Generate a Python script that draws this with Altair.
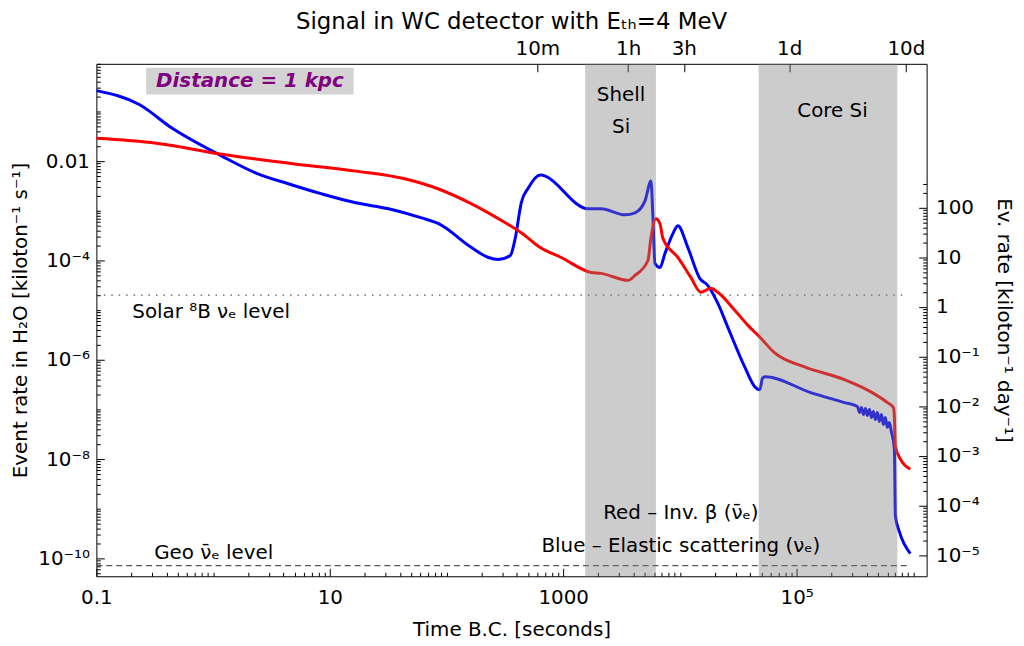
import altair as alt
import pandas as pd

# ---------------- data ----------------
blue_t = [0.1, 0.233, 0.447, 1.19, 2.33, 4.47, 8.55, 16.7, 31.9, 61.1,
          85.5, 164, 229, 278, 352, 389, 437, 502, 636, 1637,
          2113, 3388, 4121, 5021, 5649, 5875, 6110, 6745, 7443, 8710,
          9610, 11700, 14800, 17300, 21100, 25700, 35900, 43800, 48300, 51200,
          54300, 132000, 257000,
          332000, 346000, 359000, 374000, 389000, 404000, 421000, 438000, 455000,
          473000, 492000, 512000, 533000, 554000, 576000, 599000, 623000, 648000,
          688000, 702000, 759000, 942000]
blue_r = [0.263, 0.138, 0.0457, 0.0126, 0.00575, 0.00347, 0.00219, 0.00145, 0.0011, 7.2e-4,
          5.5e-4, 1.82e-4, 1.15e-4, 1.05e-4, 1.26e-4, 2.88e-4, 1.45e-3, 2.88e-3, 5.25e-3, 1.1e-3,
          1.1e-3, 8.3e-4, 9.1e-4, 1.58e-3, 3.98e-3, 7.2e-4, 8.7e-5, 7.2e-5, 1.38e-4, 3.47e-4,
          5.0e-4, 1.82e-4, 4.37e-5, 3.16e-5, 1.38e-5, 4.57e-6, 7.2e-7, 2.88e-7, 2.5e-7, 4.37e-7,
          4.57e-7, 2.19e-7, 1.38e-7,
          1.15e-7, 8.7e-8, 1.10e-7, 7.9e-8, 1.05e-7, 7.6e-8, 1.0e-7, 6.9e-8, 9.1e-8,
          6.3e-8, 8.7e-8, 5.75e-8, 7.9e-8, 5.0e-8, 6.9e-8, 4.37e-8, 5.5e-8, 3.63e-8,
          1.58e-8, 7.2e-10, 3.47e-10, 1.26e-10]
red_t = [0.1, 0.326, 1.19, 4.47, 16.7, 44.7, 85.5, 164, 319, 437,
         636, 961, 1734, 2113, 3597, 4121, 5321, 5649, 6232, 6745,
         7161, 9610, 12400, 15100, 18400, 21100, 29500, 38100, 48300, 64900,
         117000, 257000, 429000, 600000, 675000, 688000, 702000, 775000, 942000]
red_r = [0.0288, 0.0229, 0.0138, 0.0091, 0.0063, 0.00437, 0.00275, 0.00138, 5.75e-4, 3.63e-4,
         1.82e-4, 1.15e-4, 5.75e-5, 5.5e-5, 3.98e-5, 5.0e-5, 1.0e-4, 2.88e-4, 6.9e-4, 5.5e-4,
         2.75e-4, 1.15e-4, 4.57e-5, 2.29e-5, 2.75e-5, 2.29e-5, 1.0e-5, 5.0e-6, 2.88e-6, 1.38e-6,
         7.2e-7, 4.0e-7, 2.29e-7, 1.38e-7, 1.1e-7, 7.2e-8, 1.82e-8, 1.0e-8, 6.3e-9]

band_names = ["Shell Si", "Core Si"]
band_start = [1541, 47300]
band_end = [6232, 730000]

level_names = ["solar", "geo"]
level_values = [2.0e-5, 7.2e-11]
level_t_start = [0.1, 0.1]
level_t_end = [8.1e5, 9.25e5]

x_major = [0.1, 10, 1000, 1e5]
x_major_labels = ["0.1", "10", "1000", "10⁵"]
y_major = [1e-10, 1e-8, 1e-6, 1e-4, 1e-2]
y_major_labels = ["10⁻¹⁰", "10⁻⁸", "10⁻⁶", "10⁻⁴", "0.01"]
r_major_day = [1e-5, 1e-4, 1e-3, 1e-2, 1e-1, 1, 10, 100]
r_major_labels = ["10⁻⁵", "10⁻⁴", "10⁻³", "10⁻²", "10⁻¹", "1", "10", "100"]
top_ticks = [600, 3600, 10800, 86400, 864000]
top_labels = ["10m", "1h", "3h", "1d", "10d"]
SEC_PER_DAY = 86400

X_DOMAIN = [0.1, 1.3e6]
Y_DOMAIN = [4.4e-11, 0.91]

FONT = "DejaVu Sans"
FS = 20

# ---------------- helpers for axes ----------------
def minor_ticks(lo, hi, scale=1.0):
    out = []
    for k in range(-16, 9):
        for m in range(1, 10):
            v = m * 10.0 ** k * scale
            if lo <= v <= hi:
                out.append(v)
    return out


def is_one_of(vals):
    return " || ".join(f"abs(datum.value/{v!r} - 1) < 1e-6" for v in vals)


def label_expr(vals, labels):
    s = "''"
    for v, l in reversed(list(zip(vals, labels))):
        s = f"abs(datum.value/{v!r} - 1) < 1e-6 ? '{l}' : ({s})"
    return s


def tick_size(vals, major=-8, minor=-4):
    return {"condition": {"test": is_one_of(vals), "value": major}, "value": minor}


common_axis = dict(domain=False, grid=False, tickColor="black", tickWidth=1,
                   labelColor="black", labelFont=FONT, labelFontSize=FS,
                   labelOverlap=False, labelFlush=False, titleColor="black",
                   titleFont=FONT, titleFontSize=FS, titleFontWeight="normal")

bottom_axis = alt.Axis(orient="bottom", values=minor_ticks(*X_DOMAIN),
                       labelExpr=label_expr(x_major, x_major_labels),
                       tickSize=tick_size(x_major), labelPadding=19,
                       title="Time B.C. [seconds]", titlePadding=9, **common_axis)
left_axis = alt.Axis(orient="left", values=minor_ticks(*Y_DOMAIN),
                     labelExpr=label_expr(y_major, y_major_labels),
                     tickSize=tick_size(y_major), labelPadding=15,
                     title="Event rate in H₂O  [kiloton⁻¹ s⁻¹]", titlePadding=7,
                     **common_axis)
r_major = [v / SEC_PER_DAY for v in r_major_day]
right_axis = alt.Axis(orient="right",
                      values=minor_ticks(1e-5 / SEC_PER_DAY, 300.0 / SEC_PER_DAY,
                                         1.0 / SEC_PER_DAY),
                      labelExpr=label_expr(r_major, r_major_labels),
                      tickSize=tick_size(r_major), labelPadding=17,
                      title="Ev. rate [kiloton⁻¹ day⁻¹]", titlePadding=14, **common_axis)
top_axis = alt.Axis(orient="top", values=top_ticks,
                    labelExpr=label_expr(top_ticks, top_labels),
                    tickSize=tick_size(top_ticks), labelPadding=13,
                    title=None, **common_axis)

xs = alt.Scale(type="log", domain=X_DOMAIN, nice=False)
ys = alt.Scale(type="log", domain=Y_DOMAIN, nice=False)

# ---------------- tables ----------------
lines_df = pd.DataFrame({
    "t": blue_t + red_t,
    "r": blue_r + red_r,
    "series": ["blue"] * len(blue_t) + ["red"] * len(red_t),
    "i": list(range(len(blue_t))) + list(range(len(red_t))),
})
bands_df = pd.DataFrame({"name": band_names, "t0": band_start, "t1": band_end})
levels_df = pd.DataFrame({"name": level_names, "r": level_values,
                          "t0": level_t_start, "t1": level_t_end})

# ---------------- layers ----------------
lines = alt.Chart(lines_df).mark_line(strokeWidth=3, clip=True, interpolate="monotone").encode(
    x=alt.X("t:Q", scale=xs, axis=bottom_axis),
    y=alt.Y("r:Q", scale=ys, axis=left_axis),
    color=alt.Color("series:N", scale=alt.Scale(domain=["blue", "red"],
                                                range=["#0000ff", "#ff0000"]), legend=None),
    detail="series:N",
    order="i:Q",
)

axes_carrier = alt.Chart(lines_df).mark_point(opacity=0).encode(
    x=alt.X("t:Q", scale=xs, axis=top_axis),
    y=alt.Y("r:Q", scale=ys, axis=right_axis),
)

bands = alt.Chart(bands_df).mark_rect(color="#808080", opacity=0.4).encode(
    x=alt.X("t0:Q", scale=xs, axis=None),
    x2="t1:Q",
)

solar = alt.Chart(levels_df[levels_df.name == "solar"]).mark_rule(
    color="#555555", strokeWidth=1.2, strokeDash=[1.5, 6]).encode(
    x=alt.X("t0:Q", scale=xs, axis=None), x2="t1:Q",
    y=alt.Y("r:Q", scale=ys, axis=None))
geo = alt.Chart(levels_df[levels_df.name == "geo"]).mark_rule(
    color="#555555", strokeWidth=1.2, strokeDash=[6, 4]).encode(
    x=alt.X("t0:Q", scale=xs, axis=None), x2="t1:Q",
    y=alt.Y("r:Q", scale=ys, axis=None))

# annotation texts (positions in data coordinates)
ann_df = pd.DataFrame({
    "t": [3133, 3133, 203000, 10200, 10200],
    "r": [0.219, 0.0479, 0.1, 8.3e-10, 1.82e-10],
    "text": ["Shell", "Si", "Core Si", "Red – Inv. β (ν̄ₑ)", "Blue – Elastic scattering (νₑ)"],
})
ann_center = alt.Chart(ann_df).mark_text(font=FONT, fontSize=FS, color="black",
                                         align="center", baseline="middle").encode(
    x=alt.X("t:Q", scale=xs, axis=None), y=alt.Y("r:Q", scale=ys, axis=None), text="text:N")

lev_df = pd.DataFrame({
    "t": [0.203, 0.313],
    "r": [9.1e-6, 1.32e-10],
    "text": ["Solar ⁸B νₑ level", "Geo ν̄ₑ level"],
})
ann_left = alt.Chart(lev_df).mark_text(font=FONT, fontSize=FS, color="black",
                                       align="left", baseline="middle").encode(
    x=alt.X("t:Q", scale=xs, axis=None), y=alt.Y("r:Q", scale=ys, axis=None), text="text:N")

dist_box_df = pd.DataFrame({"t0": [0.267], "t1": [16.0], "r0": [0.219], "r1": [0.759]})
dist_box = alt.Chart(dist_box_df).mark_rect(color="#d3d3d3").encode(
    x=alt.X("t0:Q", scale=xs, axis=None), x2="t1:Q",
    y=alt.Y("r0:Q", scale=ys, axis=None), y2="r1:Q")
dist_df = pd.DataFrame({"t": [2.07], "r": [0.417], "text": ["Distance = 1 kpc"]})
dist_text = alt.Chart(dist_df).mark_text(font=FONT, fontSize=FS, fontWeight="bold",
                                         fontStyle="italic", color="#800080",
                                         align="center", baseline="middle").encode(
    x=alt.X("t:Q", scale=xs, axis=None), y=alt.Y("r:Q", scale=ys, axis=None), text="text:N")

chart = alt.layer(
    dist_box, dist_text, solar, geo, lines, bands, ann_center, ann_left, axes_carrier
).resolve_axis(x="independent", y="independent").properties(
    width=836, height=516,
    title=alt.TitleParams("Signal in WC detector with Eₜₕ=4 MeV", font=FONT, fontSize=23,
                          fontWeight="normal", color="black", anchor="middle", offset=5),
    autosize=alt.AutoSizeParams(type="none"),
    padding={"left": 89, "top": 54, "right": 90, "bottom": 66},
).configure_view(stroke="black", strokeWidth=1)

chart.save("out.html", embed_options={"renderer": "svg", "actions": False})
